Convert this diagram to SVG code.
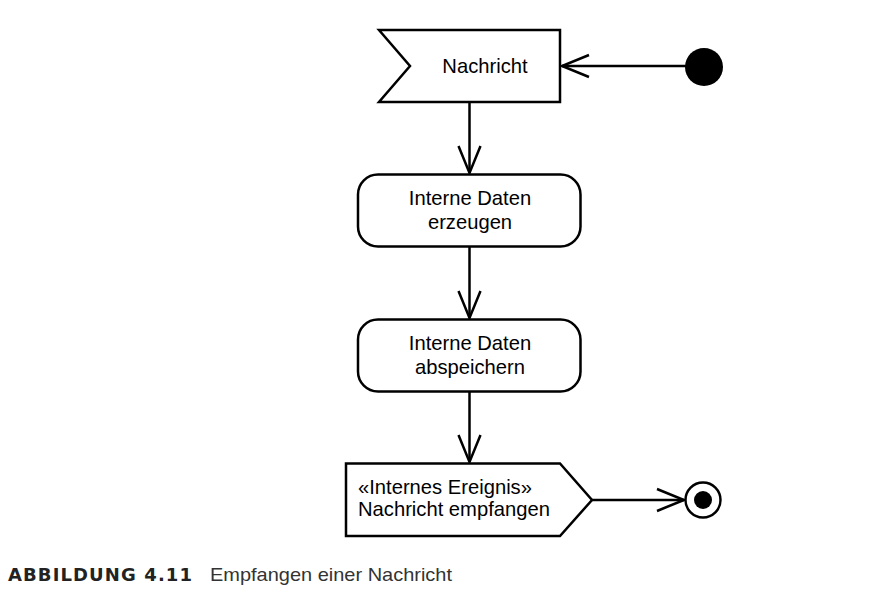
<svg xmlns="http://www.w3.org/2000/svg" width="877" height="593" viewBox="0 0 877 593">
<style>
.shape{fill:#fff;stroke:#000;stroke-width:2.5;stroke-linejoin:miter}
.edge{fill:none;stroke:#000;stroke-width:2.5}
.lbl{font-family:"Liberation Sans",Arial,sans-serif;font-size:20.2px;fill:#000}
.cap{font-family:"Liberation Sans",Arial,sans-serif;font-size:19px;fill:#333}
.capb{font-family:"DejaVu Sans",sans-serif;font-size:18px;font-weight:bold;fill:#222}
</style>
<defs>
<marker id="open" markerUnits="userSpaceOnUse" markerWidth="40" markerHeight="30" refX="28" refY="12" orient="auto" viewBox="0 0 40 30" overflow="visible">
<polyline points="1,1 28,12 1,23" fill="none" stroke="#000" stroke-width="2.5"/>
</marker>
</defs>
<rect width="877" height="593" fill="#fff"/>
<g id="connectors">
<line class="edge" x1="686" y1="66" x2="562" y2="66" marker-end="url(#open)"/>
<line class="edge" x1="469.5" y1="102" x2="469.5" y2="173" marker-end="url(#open)"/>
<line class="edge" x1="469.5" y1="247" x2="469.5" y2="318" marker-end="url(#open)"/>
<line class="edge" x1="469.5" y1="392" x2="469.5" y2="462" marker-end="url(#open)"/>
<line class="edge" x1="592" y1="500" x2="684" y2="500" marker-end="url(#open)"/>
</g>
<g id="start">
<circle cx="704" cy="67" r="19" fill="#000"/>
</g>
<g id="nachricht">
<polygon class="shape" points="379,30 560,30 560,102 379,102 410,66"/>
<text class="lbl" x="485" y="73" text-anchor="middle">Nachricht</text>
</g>
<g id="erzeugen">
<rect class="shape" x="358" y="174.5" width="222.5" height="72" rx="20" ry="20"/>
<text class="lbl" x="470" y="205" text-anchor="middle">Interne Daten</text>
<text class="lbl" x="470" y="229" text-anchor="middle">erzeugen</text>
</g>
<g id="abspeichern">
<rect class="shape" x="358" y="319.5" width="222.5" height="72" rx="20" ry="20"/>
<text class="lbl" x="470" y="350" text-anchor="middle">Interne Daten</text>
<text class="lbl" x="470" y="374" text-anchor="middle">abspeichern</text>
</g>
<g id="ereignis">
<polygon class="shape" points="346,463.5 560,463.5 592,500 560,536 346,536"/>
<text class="lbl" x="358" y="494">«Internes Ereignis»</text>
<text class="lbl" x="358" y="516">Nachricht empfangen</text>
</g>
<g id="end">
<circle cx="703" cy="500" r="17.5" fill="#fff" stroke="#000" stroke-width="2.5"/>
<circle cx="703" cy="500" r="9" fill="#000"/>
</g>
<g id="caption">
<text class="capb" x="8" y="581" textLength="184" lengthAdjust="spacing">ABBILDUNG 4.11</text>
<text class="cap" x="210" y="581" textLength="242" lengthAdjust="spacingAndGlyphs">Empfangen einer Nachricht</text>
</g>
</svg>
